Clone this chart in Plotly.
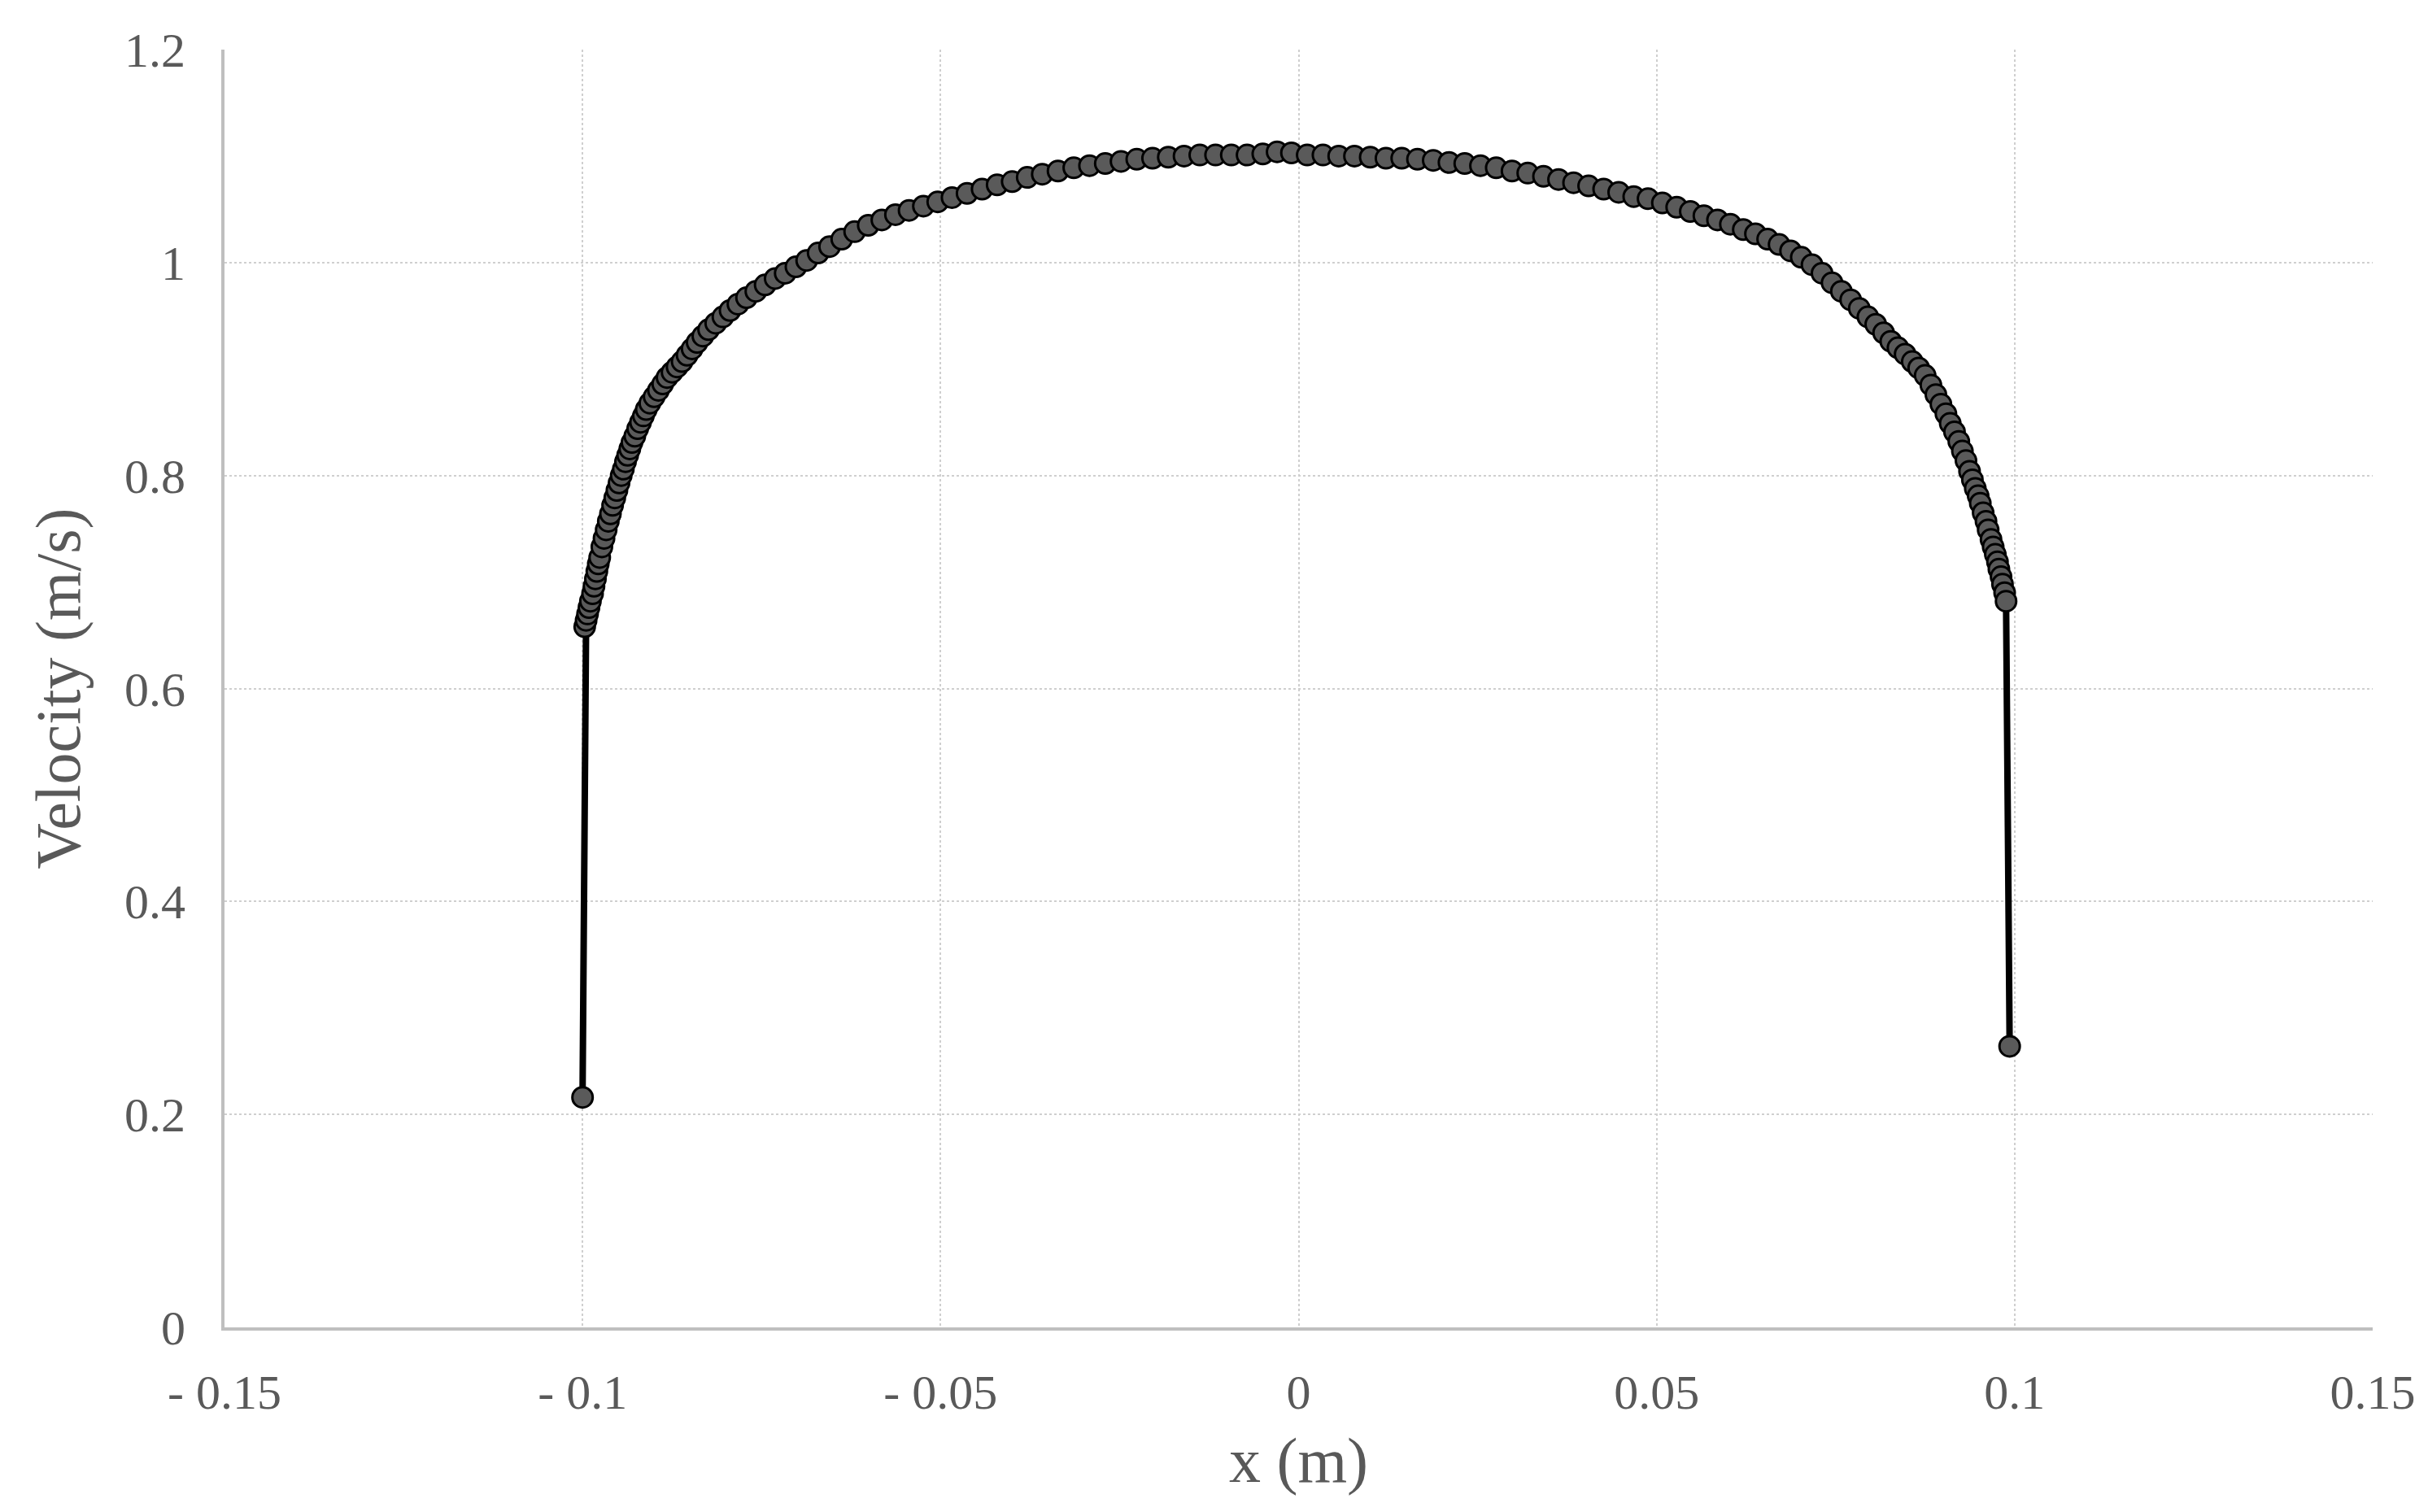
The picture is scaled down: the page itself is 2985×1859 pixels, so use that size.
import plotly.graph_objects as go

# radial position across the pipe (m)
x_pos = [
    -0.1000, -0.0997, -0.0995, -0.0993, -0.0991, -0.0989, -0.0986, -0.0984, -0.0982, -0.0980,
    -0.0978, -0.0976, -0.0973, -0.0970, -0.0967, -0.0964, -0.0961, -0.0958, -0.0955, -0.0952,
    -0.0949, -0.0946, -0.0943, -0.0940, -0.0937, -0.0934, -0.0931, -0.0927, -0.0923, -0.0919,
    -0.0915, -0.0911, -0.0906, -0.0900, -0.0894, -0.0888, -0.0882, -0.0875, -0.0868, -0.0861,
    -0.0854, -0.0847, -0.0840, -0.0832, -0.0824, -0.0814, -0.0804, -0.0794, -0.0783, -0.0771,
    -0.0758, -0.0745, -0.0731, -0.0717, -0.0702, -0.0687, -0.0671, -0.0655, -0.0638, -0.0620,
    -0.0601, -0.0582, -0.0563, -0.0544, -0.0524, -0.0504, -0.0484, -0.0463, -0.0442, -0.0421,
    -0.0400, -0.0379, -0.0358, -0.0336, -0.0314, -0.0292, -0.0270, -0.0248, -0.0226, -0.0204,
    -0.0182, -0.0160, -0.0138, -0.0116, -0.0094, -0.0072, -0.0050, -0.0030, -0.0010, 0.0012,
    0.0034, 0.0056, 0.0078, 0.0100, 0.0122, 0.0144, 0.0166, 0.0188, 0.0210, 0.0232,
    0.0254, 0.0276, 0.0298, 0.0320, 0.0342, 0.0363, 0.0384, 0.0405, 0.0426, 0.0447,
    0.0468, 0.0488, 0.0508, 0.0528, 0.0547, 0.0566, 0.0585, 0.0603, 0.0621, 0.0638,
    0.0655, 0.0671, 0.0687, 0.0702, 0.0717, 0.0731, 0.0745, 0.0758, 0.0771, 0.0783,
    0.0795, 0.0806, 0.0817, 0.0827, 0.0837, 0.0847, 0.0857, 0.0866, 0.0875, 0.0883,
    0.0890, 0.0897, 0.0904, 0.0910, 0.0916, 0.0922, 0.0927, 0.0932, 0.0937, 0.0941,
    0.0945, 0.0949, 0.0952, 0.0956, 0.0960, 0.0963, 0.0967, 0.0970, 0.0973, 0.0976,
    0.0978, 0.0981, 0.0983, 0.0986, 0.0988, 0.0993,
]

# axial velocity (m/s)
velocity = [
    0.216, 0.658, 0.664, 0.670, 0.676, 0.682, 0.689, 0.696, 0.703, 0.710,
    0.717, 0.723, 0.733, 0.741, 0.749, 0.757, 0.764, 0.772, 0.779, 0.786,
    0.793, 0.800, 0.806, 0.813, 0.819, 0.825, 0.831, 0.837, 0.844, 0.850,
    0.856, 0.862, 0.868, 0.874, 0.880, 0.886, 0.892, 0.897, 0.902, 0.907,
    0.913, 0.919, 0.925, 0.931, 0.937, 0.943, 0.949, 0.955, 0.961, 0.967,
    0.973, 0.979, 0.985, 0.990, 0.996, 1.002, 1.009, 1.015, 1.022, 1.029,
    1.035, 1.040, 1.045, 1.049, 1.053, 1.057, 1.061, 1.065, 1.069, 1.073,
    1.076, 1.080, 1.083, 1.086, 1.089, 1.091, 1.093, 1.095, 1.097, 1.098,
    1.099, 1.100, 1.101, 1.101, 1.101, 1.101, 1.102, 1.104, 1.103, 1.101,
    1.101, 1.100, 1.100, 1.099, 1.098, 1.098, 1.097, 1.096, 1.094, 1.093,
    1.091, 1.089, 1.086, 1.084, 1.081, 1.078, 1.075, 1.072, 1.069, 1.066,
    1.062, 1.060, 1.056, 1.052, 1.048, 1.044, 1.040, 1.036, 1.031, 1.027,
    1.022, 1.017, 1.011, 1.005, 0.998, 0.990, 0.981, 0.973, 0.965, 0.957,
    0.949, 0.942, 0.934, 0.926, 0.920, 0.914, 0.907, 0.901, 0.894, 0.885,
    0.876, 0.867, 0.858, 0.849, 0.841, 0.832, 0.823, 0.814, 0.804, 0.796,
    0.788, 0.781, 0.774, 0.765, 0.757, 0.749, 0.740, 0.733, 0.726, 0.719,
    0.712, 0.705, 0.698, 0.690, 0.682, 0.264,
]

x_ticks = [-0.15, -0.1, -0.05, 0, 0.05, 0.1, 0.15]
x_ticktext = ["- 0.15", "- 0.1", "- 0.05", "0", "0.05", "0.1", "0.15"]
y_ticks = [0, 0.2, 0.4, 0.6, 0.8, 1.0, 1.2]
y_ticktext = ["0", "0.2", "0.4", "0.6", "0.8", "1", "1.2"]

FONT = "Liberation Serif, Times New Roman, serif"
TEXT_COLOR = "#595959"

fig = go.Figure()

fig.add_trace(go.Scatter(
    x=x_pos, y=velocity,
    mode="lines+markers",
    line=dict(color="black", width=8),
    marker=dict(size=25, color="#5a5a5a", line=dict(color="black", width=3)),
    showlegend=False,
))

fig.update_layout(
    width=2985, height=1859,
    margin=dict(l=268, r=76, t=53, b=235),
    paper_bgcolor="white", plot_bgcolor="white",
    font=dict(family=FONT, color=TEXT_COLOR, size=58),
    xaxis=dict(
        range=[-0.15, 0.15],
        tickvals=x_ticks, ticktext=x_ticktext,
        showgrid=True, gridcolor="#cfcfcf", gridwidth=2, griddash="dot",
        showline=True, linecolor="#bfbfbf", linewidth=4,
        zeroline=False, ticks="", ticklabelstandoff=24,
        automargin=False,
        tickfont=dict(size=60, color=TEXT_COLOR),
        title=dict(text="x (m)", font=dict(size=78, color=TEXT_COLOR), standoff=24),
    ),
    yaxis=dict(
        range=[0, 1.2],
        tickvals=y_ticks, ticktext=y_ticktext,
        showgrid=True, gridcolor="#cfcfcf", gridwidth=2, griddash="dot",
        showline=True, linecolor="#bfbfbf", linewidth=4,
        zeroline=False, ticks="", ticklabelstandoff=32,
        automargin=False,
        tickfont=dict(size=60, color=TEXT_COLOR),
        title=dict(text="Velocity (m/s)", font=dict(size=78, color=TEXT_COLOR), standoff=30),
    ),
)

fig.write_html("out.html")
